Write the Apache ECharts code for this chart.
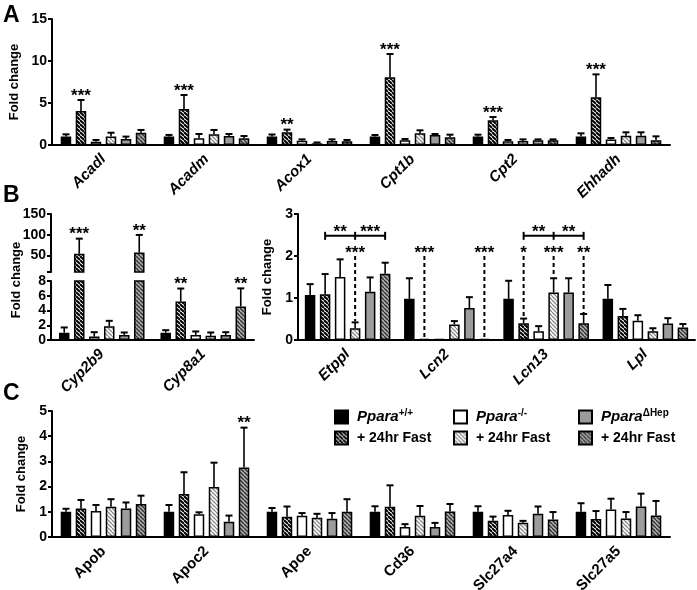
<!DOCTYPE html>
<html><head><meta charset="utf-8">
<script src="https://cdn.jsdelivr.net/npm/echarts@6/dist/echarts.min.js"></script>
<style>html,body{margin:0;padding:0;background:#fff}#c{width:697px;height:590px}</style>
</head><body><div id="c"></div>
<script>
// ---------- DATA ----------
const seriesNames = ['WT', 'WT_F', 'KO', 'KO_F', 'HEP', 'HEP_F'];

// Panel A
const genesA = ['Acadl', 'Acadm', 'Acox1', 'Cpt1b', 'Cpt2', 'Ehhadh'];
const aWT       = [1.00, 1.00, 1.00, 1.00, 1.00, 1.00];
const aWTFast   = [4.05, 4.29, 1.51, 8.06, 2.94, 5.67];
const aKO       = [0.40, 0.80, 0.52, 0.56, 0.44, 0.64];
const aKOFast   = [1.00, 1.27, 0.20, 1.39, 0.48, 1.11];
const aHep      = [0.71, 1.07, 0.48, 1.19, 0.56, 1.11];
const aHepFast  = [1.46, 0.80, 0.44, 0.91, 0.56, 0.56];
const aWTErr      = [0.27, 0.20, 0.25, 0.19, 0.23, 0.39];
const aWTFastErr  = [1.31, 1.66, 0.32, 2.77, 0.39, 2.74];
const aKOErr      = [0.20, 0.51, 0.15, 0.15, 0.16, 0.19];
const aKOFastErr  = [0.46, 0.52, 0.10, 0.36, 0.19, 0.40];
const aHepErr     = [0.29, 0.24, 0.19, 0.12, 0.11, 0.40];
const aHepFastErr = [0.33, 0.27, 0.16, 0.32, 0.11, 0.47];
const aStars = [[0, 1, '***'], [1, 1, '***'], [2, 1, '**'], [3, 1, '***'], [4, 1, '***'], [5, 1, '***']];
const aTicks = [0, 5, 10, 15];

// Panel B (left, broken axis)
const genesB1 = ['Cyp2b9', 'Cyp8a1'];
const b1WT      = [1.00, 1.00];
const b1WTFast  = [54, 5.23];
const b1KO      = [0.46, 0.69];
const b1KOFast  = [1.85, 0.56];
const b1Hep     = [0.69, 0.69];
const b1HepFast = [57, 4.54];
const b1WTErr      = [0.70, 0.33];
const b1WTFastErr  = [36.5, 1.75];
const b1KOErr      = [0.60, 0.47];
const b1KOFastErr  = [0.75, 0.46];
const b1HepErr     = [0.33, 0.37];
const b1HepFastErr = [42.5, 2.46];
const b1Stars = [[0, 1, '***'], [0, 5, '**'], [1, 1, '**'], [1, 5, '**']];
const b1TopTicks = [50, 100, 150];
const b1BottomTicks = [0, 2, 4, 6, 8];

// Panel B (right)
const genesB2 = ['Etppl', 'Lcn2', 'Lcn13', 'Lpl'];
const b2WT      = [1.07, 0.98, 0.98, 0.98];
const b2WTFast  = [1.09, 0.02, 0.40, 0.57];
const b2KO      = [1.50, 0.02, 0.21, 0.46];
const b2KOFast  = [0.28, 0.37, 1.13, 0.21];
const b2Hep     = [1.15, 0.76, 1.13, 0.39];
const b2HepFast = [1.58, 0.02, 0.40, 0.30];
const b2WTErr      = [0.26, 0.49, 0.43, 0.33];
const b2WTFastErr  = [0.48, 0.00, 0.11, 0.17];
const b2KOErr      = [0.42, 0.00, 0.12, 0.13];
const b2KOFastErr  = [0.14, 0.08, 0.34, 0.07];
const b2HepErr     = [0.34, 0.26, 0.34, 0.13];
const b2HepFastErr = [0.26, 0.00, 0.22, 0.08];
const b2Dashed = [[0, 3, '***'], [1, 1, '***'], [1, 5, '***'], [2, 1, '*'], [2, 3, '***'], [2, 5, '**']];
const b2Brackets = [[0, 1, 3, 5, '**', '***'], [2, 1, 3, 5, '**', '**']];
const b2Ticks = [0, 1, 2, 3];

// Panel C
const genesC = ['Apob', 'Apoc2', 'Apoe', 'Cd36', 'Slc27a4', 'Slc27a5'];
const cWT       = [1.00, 1.00, 1.00, 1.00, 1.00, 1.00];
const cWTFast   = [1.13, 1.71, 0.80, 1.20, 0.64, 0.71];
const cKO       = [1.03, 0.90, 0.84, 0.40, 0.87, 1.09];
const cKOFast   = [1.20, 1.98, 0.76, 0.84, 0.57, 0.73];
const cHep      = [1.13, 0.61, 0.72, 0.40, 0.92, 1.21];
const cHepFast  = [1.31, 2.76, 1.00, 1.01, 0.69, 0.85];
const cWTErr      = [0.12, 0.27, 0.15, 0.22, 0.22, 0.34];
const cWTFastErr  = [0.34, 0.86, 0.41, 0.85, 0.17, 0.32];
const cKOErr      = [0.24, 0.08, 0.11, 0.11, 0.17, 0.43];
const cKOFastErr  = [0.30, 0.97, 0.16, 0.39, 0.07, 0.26];
const cHepErr     = [0.24, 0.24, 0.23, 0.16, 0.29, 0.51];
const cHepFastErr = [0.33, 1.58, 0.50, 0.30, 0.30, 0.58];
const cStars = [[1, 5, '**']];
const cTicks = [0, 1, 2, 3, 4, 5];

// ---------- STYLE / BUILD ----------
const FONT = 'Liberation Sans, Arial, sans-serif';
function hatch(bg, fg, lw, s) {
  const c = document.createElement('canvas'); c.width = s; c.height = s;
  const g = c.getContext('2d'); g.fillStyle = bg; g.fillRect(0, 0, s, s);
  g.strokeStyle = fg; g.lineWidth = lw; g.beginPath();
  for (const k of [-s, 0, s]) { g.moveTo(k, 0); g.lineTo(k + s, s); }
  g.stroke(); return c;
}
const fills = [
  '#000000',
  { image: hatch('#ffffff', '#000000', 2.0, 4), repeat: 'repeat' },
  '#ffffff',
  { image: hatch('#ffffff', '#8a8a8a', 1.3, 4), repeat: 'repeat' },
  '#9c9c9c',
  { image: hatch('#b0b0b0', '#333333', 1.4, 4), repeat: 'repeat' }
];
const STEP = 15;
const panels = {
  A:  { means: [aWT, aWTFast, aKO, aKOFast, aHep, aHepFast], errs: [aWTErr, aWTFastErr, aKOErr, aKOFastErr, aHepErr, aHepFastErr] },
  B1: { means: [b1WT, b1WTFast, b1KO, b1KOFast, b1Hep, b1HepFast], errs: [b1WTErr, b1WTFastErr, b1KOErr, b1KOFastErr, b1HepErr, b1HepFastErr] },
  B2: { means: [b2WT, b2WTFast, b2KO, b2KOFast, b2Hep, b2HepFast], errs: [b2WTErr, b2WTFastErr, b2KOErr, b2KOFastErr, b2HepErr, b2HepFastErr] },
  C:  { means: [cWT, cWTFast, cKO, cKOFast, cHep, cHepFast], errs: [cWTErr, cWTFastErr, cKOErr, cKOFastErr, cHepErr, cHepFastErr] }
};

const grids = [
  { left: 52, top: 19, width: 618, height: 126 },   // A
  { left: 51, top: 214, width: 203, height: 58 },   // B left top
  { left: 51, top: 281, width: 203, height: 59 },   // B left bottom
  { left: 298, top: 214, width: 397, height: 126 }, // B right
  { left: 52, top: 411, width: 618, height: 126 }   // C
].map(g => Object.assign(g, { containLabel: false, outerBoundsMode: 'none' }));

function xAx(g, data, italic, show) {
  return {
    type: 'category', gridIndex: g, data: data, show: show !== false,
    axisLine: { lineStyle: { color: '#000', width: 2 } },
    axisTick: { alignWithLabel: true, length: 4, lineStyle: { color: '#000', width: 1.5 } },
    axisLabel: { rotate: 45, interval: 0, margin: 12, color: '#000', fontSize: 15, fontWeight: 'bold', fontStyle: italic ? 'italic' : 'normal', fontFamily: FONT }
  };
}
function yAx(g, min, max, ticks, name, nameGap, extra) {
  const o = {
    type: 'value', gridIndex: g, min: min, max: max,
    axisLine: { show: true, lineStyle: { color: '#000', width: 2 } },
    axisTick: { show: true, length: 4, lineStyle: { color: '#000', width: 2 }, customValues: ticks },
    axisLabel: { color: '#000', fontSize: 14, fontWeight: 'bold', fontFamily: FONT, margin: 5, customValues: ticks },
    splitLine: { show: false },
    name: name || '', nameLocation: 'middle', nameGap: nameGap || 0,
    nameTextStyle: { color: '#000', fontSize: 13, fontWeight: 'bold', fontFamily: FONT }
  };
  return Object.assign(o, extra || {});
}

function barSeries(g, p, filter) {
  return p.means.map((arr, i) => ({
    type: 'bar', name: seriesNames[i], xAxisIndex: g, yAxisIndex: g,
    data: arr.map(filter || (v => v)),
    barWidth: 10.5, barGap: '43%', barMinHeight: 1,
    itemStyle: { color: fills[i], borderColor: '#000', borderWidth: 1.5 },
    emphasis: { disabled: true }, silent: true, z: 2
  }));
}
function errSeries(g, p, keep) {
  const data = [];
  p.means.forEach((arr, i) => arr.forEach((m, c) => {
    const e = p.errs[i][c];
    if (e > 0 && keep(m, e)) data.push([c, m + e, i, m, e]);
  }));
  return {
    type: 'custom', xAxisIndex: g, yAxisIndex: g, data: data, silent: true, z: 3, clip: false,
    encode: { x: 0, y: 1 },
    renderItem: (params, api) => {
      const c = api.value(0), i = api.value(2), m = api.value(3), e = api.value(4);
      const p0 = api.coord([c, m]), p1 = api.coord([c, m + e]);
      const x = p0[0] + (i - 2.5) * STEP;
      return { type: 'group', children: [
        { type: 'line', shape: { x1: x, y1: p0[1], x2: x, y2: p1[1] }, style: { stroke: '#000', lineWidth: 1.6 } },
        { type: 'line', shape: { x1: x - 3.5, y1: p1[1], x2: x + 3.5, y2: p1[1] }, style: { stroke: '#000', lineWidth: 2 } }
      ] };
    }
  };
}
function starSeries(g, p, stars, keep) {
  const list = stars.filter(s => keep(p.means[s[1]][s[0]]));
  return {
    type: 'custom', xAxisIndex: g, yAxisIndex: g, silent: true, z: 4, clip: false,
    data: list.map(s => [s[0], p.means[s[1]][s[0]] + p.errs[s[1]][s[0]]]),
    encode: { x: 0, y: 1 },
    renderItem: (params, api) => {
      const s = list[params.dataIndex];
      const pt = api.coord([api.value(0), api.value(1)]);
      return { type: 'text', x: pt[0] + (s[1] - 2.5) * STEP, y: pt[1] - 4,
        style: { text: s[2], fill: '#000', font: 'bold 17px ' + FONT, align: 'center', verticalAlign: 'middle' } };
    }
  };
}
const DASH_TOP = 2.0, BRACKET_Y = 2.48;
function b2AnnotSeries(p) {
  const items = b2Dashed.map(d => ({ kind: 'dash', d: d })).concat(b2Brackets.map(b => ({ kind: 'br', d: b })));
  return {
    type: 'custom', xAxisIndex: 3, yAxisIndex: 3, silent: true, z: 4, clip: false,
    data: items.map(it => [it.d[0], it.kind === 'dash' ? DASH_TOP : BRACKET_Y]),
    encode: { x: 0, y: 1 },
    renderItem: (params, api) => {
      const it = items[params.dataIndex];
      const pt = api.coord([api.value(0), api.value(1)]);
      const txt = (t, x, y) => ({ type: 'text', x: x, y: y, style: { text: t, fill: '#000', font: 'bold 17px ' + FONT, align: 'center', verticalAlign: 'middle' } });
      if (it.kind === 'dash') {
        const c = it.d[0], i = it.d[1];
        const bottom = p.means[i][c] + p.errs[i][c];
        const pb = api.coord([c, bottom]);
        const x = pt[0] + (i - 2.5) * STEP;
        return { type: 'group', children: [
          { type: 'line', shape: { x1: x, y1: pt[1], x2: x, y2: pb[1] - 1 }, style: { stroke: '#000', lineWidth: 2, lineDash: [4, 3] } },
          txt(it.d[2], x, pt[1] - 3)
        ] };
      } else {
        const b = it.d;
        const x1 = pt[0] + (b[1] - 2.5) * STEP, xm = pt[0] + (b[2] - 2.5) * STEP, x2 = pt[0] + (b[3] - 2.5) * STEP;
        const y = pt[1];
        const ln = (a, bb, c, d, w) => ({ type: 'line', shape: { x1: a, y1: bb, x2: c, y2: d }, style: { stroke: '#000', lineWidth: w } });
        return { type: 'group', children: [
          ln(x1, y, x2, y, 2), ln(x1, y - 4, x1, y + 4, 2), ln(xm, y - 4, xm, y + 4, 2), ln(x2, y - 4, x2, y + 4, 2),
          txt(b[4], (x1 + xm) / 2, y - 4), txt(b[5], (xm + x2) / 2, y - 4)
        ] };
      }
    }
  };
}

const all = () => true;
const series = [].concat(
  barSeries(0, panels.A), [errSeries(0, panels.A, all), starSeries(0, panels.A, aStars, all)],
  barSeries(1, panels.B1, v => v > 10 ? v : '-'),
  [errSeries(1, panels.B1, m => m > 10), starSeries(1, panels.B1, b1Stars, m => m > 10)],
  barSeries(2, panels.B1),
  [errSeries(2, panels.B1, (m, e) => m + e <= 8), starSeries(2, panels.B1, b1Stars, m => m <= 8)],
  barSeries(3, panels.B2), [errSeries(3, panels.B2, all), b2AnnotSeries(panels.B2)],
  barSeries(4, panels.C), [errSeries(4, panels.C, all), starSeries(4, panels.C, cStars, all)]
);

const legendText = {
  WT: '{i|Ppara}{s|+/+}', KO: '{i|Ppara}{s|-/-}', HEP: '{i|Ppara}{s|ΔHep}',
  WT_F: '{n|+ 24hr Fast}', KO_F: '{n|+ 24hr Fast}', HEP_F: '{n|+ 24hr Fast}'
};
const legendRich = {
  i: { fontSize: 15, fontWeight: 'bold', fontStyle: 'italic', fontFamily: FONT, color: '#000', lineHeight: 18, padding: [0, 0, 0, 4] },
  s: { fontSize: 10, fontWeight: 'bold', fontFamily: FONT, color: '#000', verticalAlign: 'top', lineHeight: 12 },
  n: { fontSize: 14, fontWeight: 'bold', fontFamily: FONT, color: '#000', lineHeight: 18, padding: [0, 0, 0, 4] }
};
function legendCol(names, left) {
  return { data: names, left: left, top: 408, orient: 'vertical', itemWidth: 13, itemHeight: 13, itemGap: 6,
    icon: 'rect', selectedMode: false, padding: 0,
    formatter: n => legendText[n], textStyle: { rich: legendRich } };
}

const option = {
  animation: false,
  backgroundColor: '#fff',
  grid: grids,
  xAxis: [xAx(0, genesA, true), xAx(1, genesB1, true, false), xAx(2, genesB1, true), xAx(3, genesB2, true), xAx(4, genesC, false)],
  yAxis: [
    yAx(0, 0, 15, aTicks, 'Fold change', 24),
    yAx(1, 10, 150, b1TopTicks, '', 0, { axisTick: { show: true, length: 4, lineStyle: { color: '#000', width: 2 }, customValues: [10].concat(b1TopTicks) } }),
    yAx(2, 0, 8, b1BottomTicks, '', 0),
    yAx(3, 0, 3, b2Ticks, 'Fold change', 18),
    yAx(4, 0, 5, cTicks, 'Fold change', 16)
  ],
  legend: [legendCol(['WT', 'WT_F'], 334), legendCol(['KO', 'KO_F'], 453), legendCol(['HEP', 'HEP_F'], 578)],
  graphic: [
    { type: 'text', left: 3, top: 4, style: { text: 'A', font: 'bold 23px ' + FONT, fill: '#000' } },
    { type: 'text', left: 3, top: 184, style: { text: 'B', font: 'bold 23px ' + FONT, fill: '#000' } },
    { type: 'text', left: 3, top: 382, style: { text: 'C', font: 'bold 23px ' + FONT, fill: '#000' } },
    { type: 'text', x: 16, y: 280, rotation: Math.PI / 2, style: { text: 'Fold change', font: 'bold 13px ' + FONT, fill: '#000', align: 'center', verticalAlign: 'middle' } }
  ],
  series: series
};
const chart = echarts.init(document.getElementById('c'), null, { renderer: 'canvas' });
chart.setOption(option);
</script></body></html>
